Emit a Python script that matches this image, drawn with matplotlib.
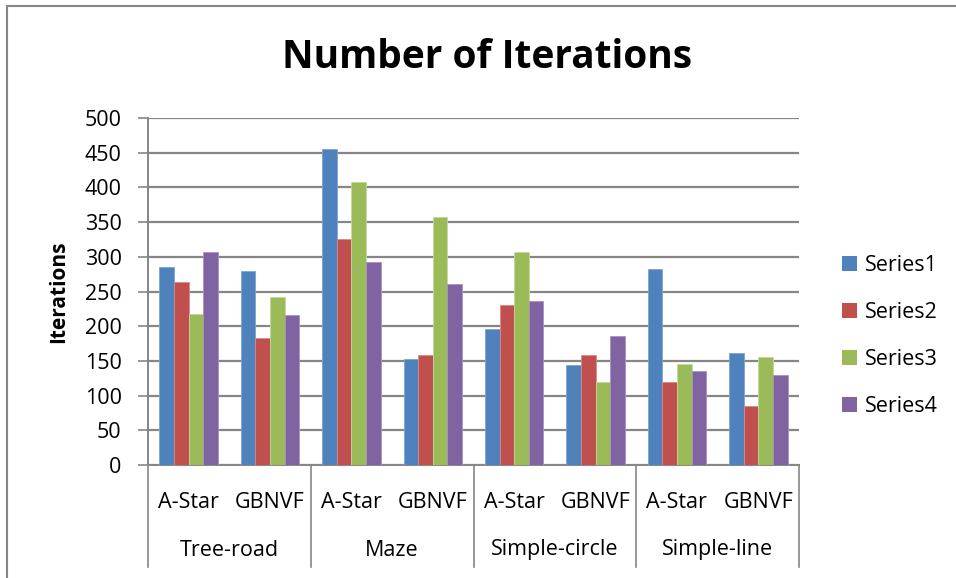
import matplotlib
matplotlib.use("Agg")
import matplotlib.pyplot as plt
from matplotlib.patches import Rectangle, Patch
from matplotlib.lines import Line2D
import matplotlib.transforms as mtransforms
import numpy as np

plt.rcParams['font.family'] = ['Open Sans', 'DejaVu Sans']

groups = ["Tree-road", "Maze", "Simple-circle", "Simple-line"]
methods = ["A-Star", "GBNVF"]
series_names = ["Series1", "Series2", "Series3", "Series4"]
# values per category: Tree-road A-Star, Tree-road GBNVF, Maze A-Star, ...
series1 = [286, 280, 456, 153, 196, 144, 282, 162]
series2 = [264, 183, 325, 158, 230, 158, 120, 85]
series3 = [217, 242, 408, 357, 307, 119, 145, 155]
series4 = [307, 216, 293, 261, 237, 186, 135, 129]
colors = ["#4F81BD", "#C0504D", "#9BBB59", "#8064A2"]
edges = ["#7FA3D3", "#D98A88", "#C3D99A", "#A892C4"]
yticks = [0, 50, 100, 150, 200, 250, 300, 350, 400, 450, 500]

W, H = 956, 578
fig = plt.figure(figsize=(W / 100, H / 100), dpi=100)
fig.patch.set_facecolor("white")

left, right, top, bottom = 148, 799, 118, 465
ax = fig.add_axes([left / W, (H - bottom) / H, (right - left) / W, (bottom - top) / H])

grid_c = "#868686"
fs = 15.5
n = len(series1)
x = np.arange(n)
bw = 0.18
all_series = [series1, series2, series3, series4]
for i, s in enumerate(all_series):
    ax.bar(x + (i - 1.5) * bw, s, width=bw, color=colors[i], edgecolor=edges[i],
           linewidth=0.6, zorder=3, label=series_names[i])

ax.set_xlim(-0.5, n - 0.5)
ax.set_ylim(0, 500)
ax.set_yticks(yticks)
ax.set_yticklabels([str(v) for v in yticks], fontsize=fs)
ax.yaxis.grid(True, color=grid_c, linewidth=1.6, zorder=0)
ax.set_axisbelow(True)
ax.tick_params(axis='y', length=7, width=1.2, color=grid_c, pad=12)
ax.set_xticks([])
for sp in ["top", "right"]:
    ax.spines[sp].set_visible(False)
for sp in ["left", "bottom"]:
    ax.spines[sp].set_color(grid_c)
    ax.spines[sp].set_linewidth(1.4)

ax.text(59 / W, (H - 292) / H, "Iterations", transform=fig.transFigure, rotation=90,
        ha="center", va="center", fontsize=15, fontweight="bold")

# multi-level category labels
trans = mtransforms.blended_transform_factory(ax.transData, fig.transFigure)
for i in range(n):
    ax.text(x[i], (H - 502) / H, methods[i % 2], transform=trans, ha="center", va="center",
            fontsize=fs)
for g, name in enumerate(groups):
    ax.text(2 * g + 0.5, (H - 550) / H, name, transform=trans, ha="center", va="center",
            fontsize=fs)
for b in range(len(groups) + 1):
    xb = 2 * b - 0.5
    ax.add_line(Line2D([xb, xb], [(H - 465) / H, (H - 567) / H], transform=trans,
                       color=grid_c, linewidth=1.2, clip_on=False))

# legend
handles = [Patch(facecolor=colors[i], edgecolor='none', label=series_names[i]) for i in range(4)]
fig.legend(handles=handles, loc="center left", bbox_to_anchor=(823 / W, (H - 336) / H),
           frameon=False, fontsize=fs, handlelength=0.7, handleheight=0.7,
           handletextpad=0.35, labelspacing=1.2)

# title
fig.text(487 / W, (H - 58) / H, "Number of Iterations", ha="center", va="center",
         fontsize=28, fontweight="bold")

# outer border
fig.add_artist(Rectangle((7 / W, -0.1), 1.2, (H - 6) / H + 0.1, transform=fig.transFigure,
                         fill=False, edgecolor=grid_c, linewidth=1.5))

fig.savefig("out.png", dpi=100, facecolor="white")
